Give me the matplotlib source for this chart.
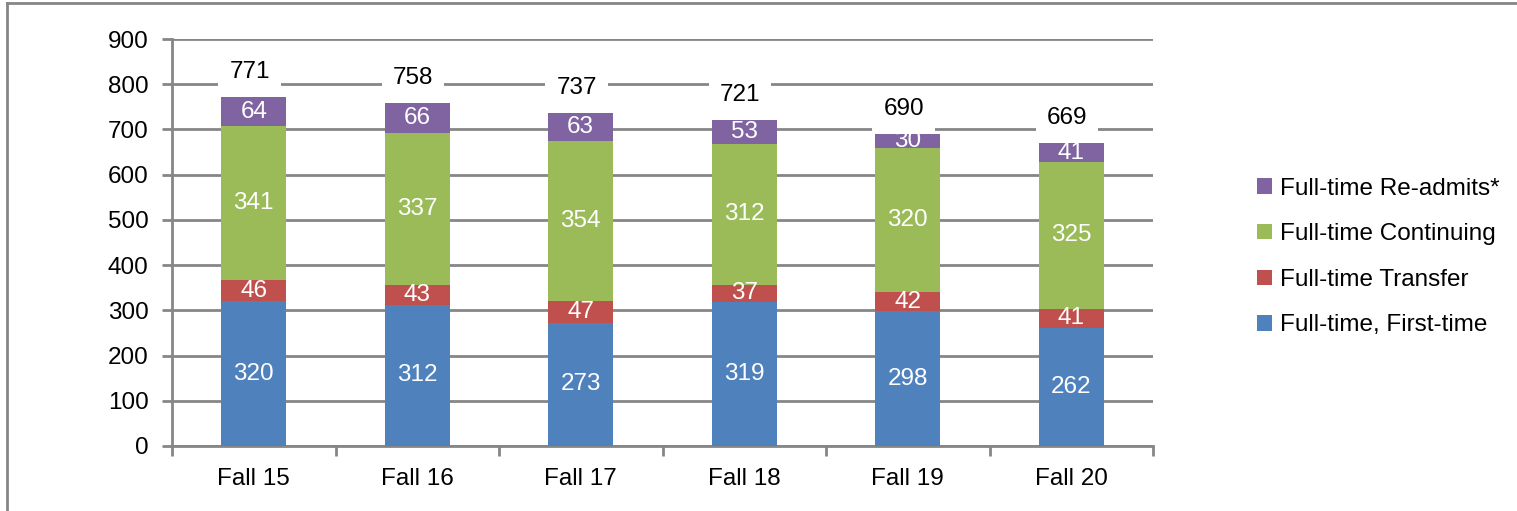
import numpy as np
import matplotlib

matplotlib.use('Agg')
import matplotlib.pyplot as plt
from matplotlib.lines import Line2D

plt.rcParams['font.family'] = ['Liberation Sans', 'DejaVu Sans']

terms = ['Fall 15', 'Fall 16', 'Fall 17', 'Fall 18', 'Fall 19', 'Fall 20']
first_time = [320, 312, 273, 319, 298, 262]
transfer = [46, 43, 47, 37, 42, 41]
continuing = [341, 337, 354, 312, 320, 325]
readmits = [64, 66, 63, 53, 30, 41]
totals = [771, 758, 737, 721, 690, 669]

series = [
    ('Full-time, First-time', first_time, '#4F81BD'),
    ('Full-time Transfer', transfer, '#C0504D'),
    ('Full-time Continuing', continuing, '#9BBB59'),
    ('Full-time Re-admits*', readmits, '#8064A2'),
]

grid_col = '#868686'
fs = 17.5

fig = plt.figure(figsize=(15.17, 5.11), dpi=100)
ax = fig.add_axes([172 / 1517, 1 - 446 / 511, (1153 - 172) / 1517, (446 - 39) / 511])

x = np.arange(len(terms))
bottom = np.zeros(len(terms))
for name, vals, col in series:
    vals = np.array(vals)
    ax.bar(x, vals, 0.4, bottom=bottom, color=col, label=name, zorder=3)
    for xi, b, v in zip(x, bottom, vals):
        ax.text(xi, b + v / 2, str(v), ha='center', va='center', color='white',
                fontsize=fs, zorder=4)
    bottom = bottom + vals

for xi, t in zip(x, totals):
    ax.annotate(str(t), (xi, t), xytext=(-3, 18), textcoords='offset points',
                ha='center', va='center', fontsize=fs, color='black', zorder=5,
                bbox=dict(boxstyle='square,pad=0.45', fc='white', ec='none'))

ax.set_xlim(-0.5, len(terms) - 0.5)
ax.set_ylim(0, 900)
ax.set_yticks(np.arange(0, 901, 100))
ax.yaxis.grid(True, color=grid_col, linewidth=2, zorder=0)
ax.set_axisbelow(True)

ax.set_xticks(x)
ax.set_xticklabels(terms, fontsize=fs)
ax.set_xticks(np.arange(-0.5, len(terms), 1), minor=True)
ax.tick_params(axis='x', which='major', length=0, pad=16)
ax.tick_params(axis='x', which='minor', length=7, width=2, color=grid_col)
ax.tick_params(axis='y', length=7, width=2, color=grid_col, labelsize=fs, pad=10)

for s in ['top', 'right']:
    ax.spines[s].set_visible(False)
for s in ['left', 'bottom']:
    ax.spines[s].set_color(grid_col)
    ax.spines[s].set_linewidth(2)

handles, labels = ax.get_legend_handles_labels()
ax.legend(handles[::-1], labels[::-1], loc='center left',
          bbox_to_anchor=(1257 / 1517, 1 - 257 / 511), bbox_transform=fig.transFigure,
          frameon=False, fontsize=fs, handlelength=0.6, handleheight=0.6,
          handletextpad=0.35, labelspacing=0.97, borderpad=0, borderaxespad=0)

# chart border (top and left edges visible)
fig.add_artist(Line2D([7 / 1517, 1], [1 - 3 / 511, 1 - 3 / 511], color=grid_col,
                      linewidth=2, transform=fig.transFigure))
fig.add_artist(Line2D([7 / 1517, 7 / 1517], [0, 1 - 3 / 511], color=grid_col,
                      linewidth=2, transform=fig.transFigure))

plt.savefig('out.png', dpi=100)
